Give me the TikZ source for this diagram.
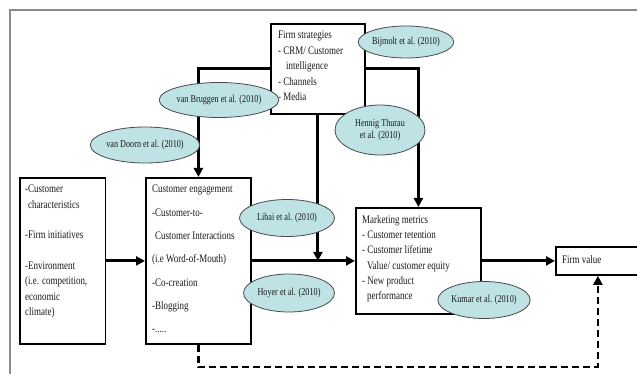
\documentclass[tikz,border=0pt]{standalone}
\usepackage{fontspec}
\setmainfont{Liberation Serif}[FakeStretch=0.78]
\usetikzlibrary{shapes.geometric,arrows.meta}
\definecolor{citefill}{HTML}{BFE2E5}
\definecolor{citeline}{HTML}{4A4A4A}
\definecolor{framegray}{HTML}{8C8C8C}
\definecolor{ink}{HTML}{1A1A1A}
\begin{document}
\begin{tikzpicture}[x=1pt,y=-1pt,
  box/.style={draw=black, line width=1.8pt, rectangle, inner sep=0pt, anchor=north west},
  boxtext/.style={anchor=north west, inner sep=0pt, align=left, text=ink},
  cite/.style={ellipse, draw=citeline, line width=0.8pt, fill=citefill, inner sep=0pt,
    align=center, text=ink, font=\fontsize{10.5}{12}\selectfont},
  flow/.style={line width=3pt, -{Triangle[length=9pt,width=9pt]}},
  feedback/.style={line width=2.5pt, dash pattern=on 7pt off 4pt, -{Triangle[length=9pt,width=9pt]}}
]
\clip (0,0) rectangle (637,374);
\fill[white] (0,0) rectangle (637,374);

% outer frame
\draw[framegray, line width=1.3pt] (10,10) rectangle (660,400);

% boxes
\node[box, minimum width=85.5pt, minimum height=166pt] (env) at (19,177) {};
\node[box, minimum width=105pt, minimum height=166pt] (ce) at (145,177) {};
\node[box, minimum width=94pt, minimum height=90pt] (fs) at (270,23) {};
\node[box, minimum width=125pt, minimum height=106pt] (mm) at (355,207) {};
\node[box, minimum width=84pt, minimum height=28pt] (fv) at (555,246) {};

% box texts
\node[boxtext, font=\fontsize{11.5}{15.5}\selectfont] (envtext) at (25,185) {%
  -Customer\\
  \hspace{3pt}characteristics\\[15pt]
  -Firm initiatives\\[15pt]
  -Environment\\
  (i.e. competition,\\
  economic\\
  climate)};
\node[boxtext, font=\fontsize{11.5}{23.3}\selectfont] (cetext) at (152,185) {%
  Customer engagement\\
  -Customer-to-\\
  \hspace{3pt}Customer Interactions\\
  (i.e Word-of-Mouth)\\
  -Co-creation\\
  -Blogging\\
  -.....};
\node[boxtext, font=\fontsize{11.5}{15.5}\selectfont] (fstext) at (278,31) {%
  Firm strategies\\
  - CRM/ Customer\\
  \hspace{8pt}intelligence\\
  - Channels\\
  - Media};
\node[boxtext, font=\fontsize{11.5}{15.3}\selectfont] (mmtext) at (362,215) {%
  Marketing metrics\\
  - Customer tetention\\
  - Customer lifetime\\
  \hspace{5pt}Value/ customer equity\\
  - New product\\
  \hspace{5pt}performance};
\node[anchor=west, inner sep=0pt, text=ink, font=\fontsize{11.5}{13}\selectfont] (fvtext) at (562,260) {Firm value};

% connectors
\draw[flow] (env.east) -- (ce.west);
\draw[flow] (ce.east) -- (mm.west);
\draw[flow] (mm.east) -- (fv.west);
\draw[flow] (fs.west) -| (ce.north);
\draw[flow] (fs.east) -| (mm.north);
\draw[flow] (fs.south) -- (fs.south |- ce.east);
\draw[feedback] (ce.south) -- ++(0,22) coordinate (dropturn) -| (fv.south);

% citation ellipses
\node[cite, minimum width=88pt, minimum height=32pt] (bij) at (406,42) {Bijmolt et al. (2010)};
\node[cite, minimum width=91pt, minimum height=35pt] (brug) at (219,100) {van Bruggen et al. (2010)};
\node[cite, minimum width=90pt, minimum height=36pt] (doorn) at (145,145) {van Doorn et al. (2010)};
\node[cite, minimum width=90pt, minimum height=50pt] (henn) at (380,130) {Hennig Thurau\\et al. (2010)};
\node[cite, minimum width=95pt, minimum height=37pt] (libai) at (287,218) {Libai et al. (2010)};
\node[cite, minimum width=91pt, minimum height=38pt] (hoyer) at (289,293) {Hoyer et al. (2010)};
\node[cite, minimum width=91pt, minimum height=37pt] (kumar) at (484,300) {Kumar et al. (2010)};
\end{tikzpicture}
\end{document}
